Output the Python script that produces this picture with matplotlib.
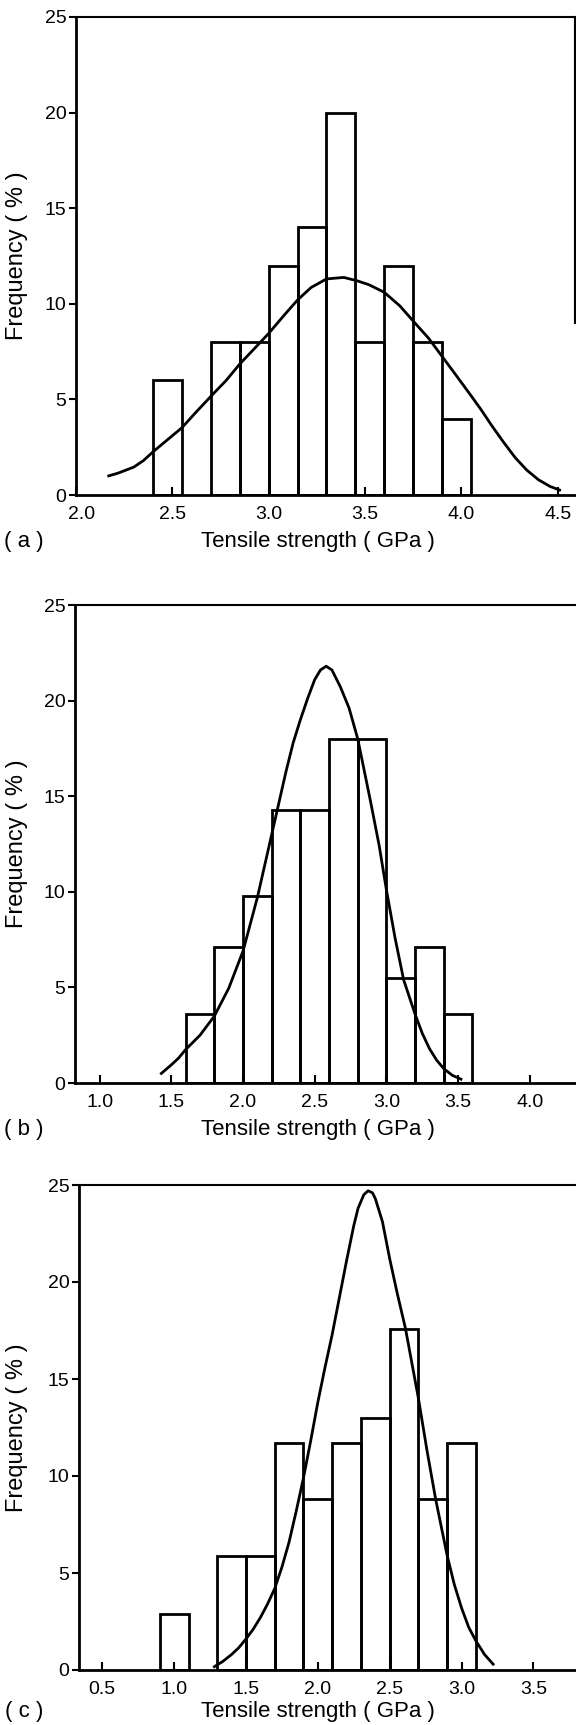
import matplotlib

matplotlib.use("Agg")
from matplotlib import pyplot as plt
from matplotlib.transforms import ScaledTranslation

plt.rcParams["font.family"] = ["Liberation Sans", "DejaVu Sans"]

W, H = 576, 1725

# (a) histogram + fitted curve
a_bin_left = [2.40, 2.70, 2.85, 3.00, 3.15, 3.30, 3.45, 3.60, 3.75, 3.90]
a_freq = [6, 8, 8, 12, 14, 20, 8, 12, 8, 4]
a_curve_x = [2.17, 2.22, 2.30, 2.35, 2.40, 2.47, 2.55, 2.62, 2.70, 2.78, 2.85, 2.93,
             3.00, 3.08, 3.15, 3.22, 3.30, 3.39, 3.46, 3.52, 3.60, 3.68, 3.75, 3.83,
             3.90, 3.97, 4.05, 4.10, 4.16, 4.22, 4.28, 4.34, 4.40, 4.46, 4.51]
a_curve_y = [1.0, 1.15, 1.46, 1.8, 2.26, 2.85, 3.52, 4.3, 5.16, 6.0, 6.85, 7.7,
             8.45, 9.4, 10.2, 10.85, 11.3, 11.38, 11.2, 11.0, 10.6, 9.9, 9.1, 8.2,
             7.25, 6.3, 5.2, 4.5, 3.6, 2.75, 1.95, 1.3, 0.8, 0.45, 0.26]
a_ticks = [2.0, 2.5, 3.0, 3.5, 4.0, 4.5]

# (b)
b_bin_left = [1.6, 1.8, 2.0, 2.2, 2.4, 2.6, 2.8, 3.0, 3.2, 3.4]
b_freq = [3.6, 7.1, 9.8, 14.3, 14.3, 18.0, 18.0, 5.5, 7.1, 3.6]
b_curve_x = [1.43, 1.50, 1.55, 1.60, 1.70, 1.80, 1.90, 2.00, 2.10, 2.20, 2.30, 2.35,
             2.40, 2.45, 2.50, 2.54, 2.58, 2.62, 2.68, 2.74, 2.80, 2.89, 2.95, 3.00,
             3.06, 3.12, 3.20, 3.25, 3.30, 3.35, 3.40, 3.46, 3.52]
b_curve_y = [0.5, 0.95, 1.3, 1.75, 2.5, 3.5, 4.95, 6.9, 9.7, 13.0, 16.3, 17.8,
             19.0, 20.1, 21.1, 21.6, 21.8, 21.6, 20.7, 19.6, 18.0, 14.7, 12.4, 10.1,
             7.6, 5.4, 3.6, 2.6, 1.8, 1.2, 0.75, 0.4, 0.2]
b_ticks = [1.0, 1.5, 2.0, 2.5, 3.0, 3.5, 4.0]

# (c)
c_bin_left = [0.9, 1.3, 1.5, 1.7, 1.9, 2.1, 2.3, 2.5, 2.7, 2.9]
c_freq = [2.9, 5.9, 5.9, 11.7, 8.8, 11.7, 13.0, 17.6, 8.8, 11.7]
c_curve_x = [1.28, 1.34, 1.40, 1.45, 1.50, 1.55, 1.60, 1.65, 1.70, 1.75, 1.80, 1.85,
             1.90, 1.95, 2.00, 2.05, 2.10, 2.15, 2.20, 2.25, 2.28, 2.32, 2.35, 2.38,
             2.40, 2.45, 2.50, 2.55, 2.61, 2.65, 2.70, 2.76, 2.82, 2.90, 2.95, 3.00,
             3.05, 3.10, 3.16, 3.22]
c_curve_y = [0.17, 0.45, 0.8, 1.15, 1.6, 2.1, 2.7, 3.4, 4.2, 5.3, 6.6, 8.2,
             9.9, 11.8, 13.8, 15.6, 17.3, 19.2, 21.1, 22.9, 23.8, 24.5, 24.7, 24.6,
             24.3, 23.1, 21.2, 19.5, 17.6, 16.0, 14.0, 11.3, 8.8, 5.9, 4.4, 3.2,
             2.2, 1.5, 0.8, 0.3]
c_ticks = [0.5, 1.0, 1.5, 2.0, 2.5, 3.0, 3.5]

fig = plt.figure(figsize=(W / 100, H / 100), dpi=100)


def add_panel(box, xlim, xticks, bin_left, width, freq, cx, cy, tag, right_spine, label_gap):
    left, top, right, bottom = box
    ax = fig.add_axes([left / W, 1 - bottom / H, (right - left) / W, (bottom - top) / H])
    ax.bar(bin_left, freq, width=width, align="edge", fill=False,
           edgecolor="black", linewidth=2)
    ax.plot(cx, cy, color="black", linewidth=2)
    ax.set_xlim(*xlim)
    ax.set_ylim(0, 25)
    ax.set_xticks(xticks)
    ax.set_xticklabels([f"{t:.1f}" for t in xticks])
    ax.set_yticks([0, 5, 10, 15, 20, 25])
    ax.tick_params(axis="y", direction="out", length=5, width=1.5, pad=2, labelsize=14)
    ax.tick_params(axis="x", direction="in", length=6, width=1.5, pad=8, labelsize=14)
    ax.spines["left"].set_linewidth(2)
    ax.spines["bottom"].set_linewidth(2)
    ax.spines["top"].set_linewidth(1.5)
    if right_spine:
        ax.spines["right"].set_linewidth(1.5)
        ax.spines["right"].set_bounds(9, 25)
    else:
        ax.spines["right"].set_visible(False)

    mid = (top + bottom) / 2
    fig.text(17 / W, 1 - mid / H, "Frequency ( % )", rotation=90,
             ha="center", va="center", fontsize=17)
    fig.text(318 / W, 1 - (bottom + label_gap) / H, "Tensile strength ( GPa )",
             ha="center", va="center", fontsize=16)
    fig.text(24 / W, 1 - (bottom + label_gap) / H, tag, ha="center", va="center", fontsize=16)
    return ax


ax_a = add_panel((76, 17, 575, 495), (2.0, 4.59), a_ticks, a_bin_left, 0.15,
                 a_freq, a_curve_x, a_curve_y, "( a )", True, 46)
first = ax_a.get_xticklabels()[0]
first.set_transform(first.get_transform() + ScaledTranslation(0.06, 0, fig.dpi_scale_trans))

add_panel((75, 605, 590, 1083), (0.828, 4.42), b_ticks, b_bin_left, 0.2,
          b_freq, b_curve_x, b_curve_y, "( b )", False, 46)
add_panel((79, 1185, 590, 1670), (0.338, 3.894), c_ticks, c_bin_left, 0.2,
          c_freq, c_curve_x, c_curve_y, "( c )", False, 41)

fig.savefig("out.png", dpi=100)
